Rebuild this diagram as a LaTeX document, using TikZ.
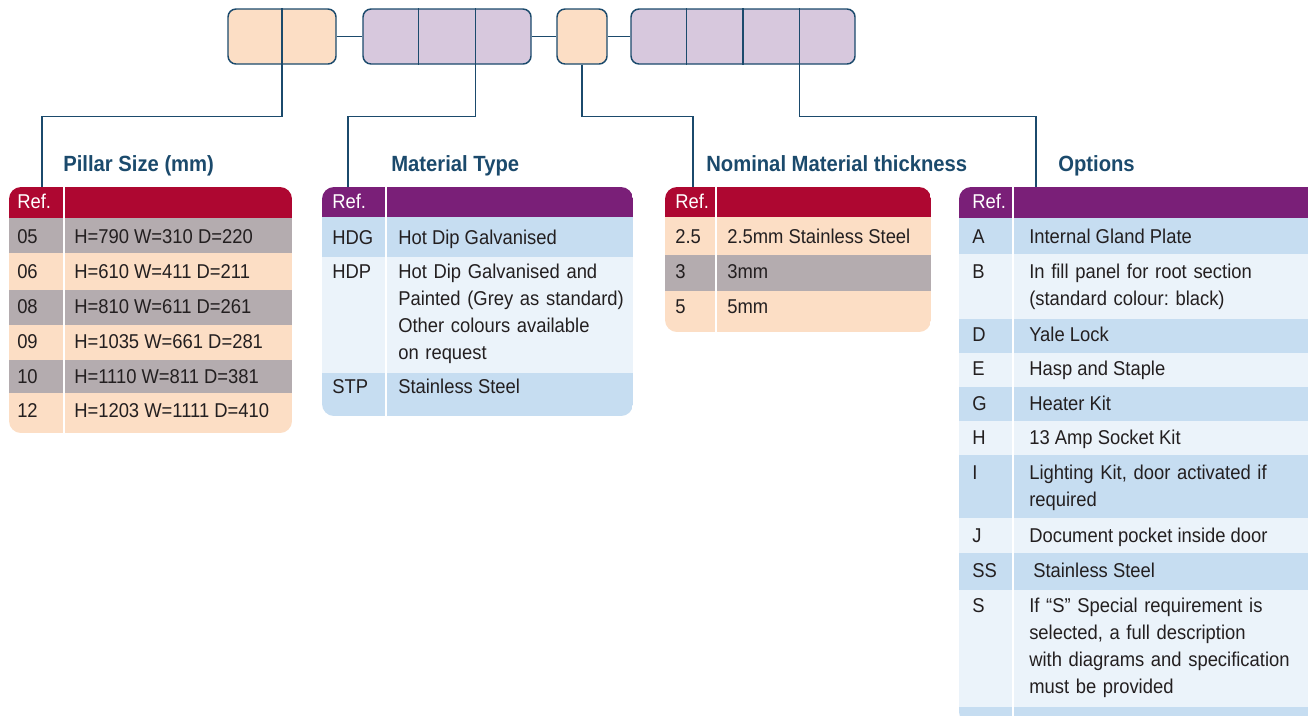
\documentclass[tikz,border=0pt]{standalone}
\usepackage{fontspec}
\setmainfont{Liberation Sans}[FakeStretch=0.92]
\usepackage{tikz}
\usetikzlibrary{calc}
\frenchspacing
\definecolor{navy}{HTML}{1B4A6C}
\definecolor{ink}{HTML}{231F20}
\definecolor{crimson}{HTML}{AE0731}
\definecolor{plum}{HTML}{7A1F78}
\definecolor{peach}{HTML}{FCDEC5}
\definecolor{lilac}{HTML}{D7C8DD}
\definecolor{greyrow}{HTML}{B4ACAF}
\definecolor{bluerow}{HTML}{C6DDF1}
\definecolor{paleblue}{HTML}{EBF3FA}
\tikzset{% styles of the code chart
    >=latex,
    edge/.style={draw=navy, line width=1pt},
    codebox/.style={draw=navy, line width=1.1pt, rounded corners=6pt,
        minimum height=41.25pt, inner sep=0pt},
    heading/.style={anchor=base west, inner sep=0pt, text=navy,
        font=\bfseries\fontsize{16.5}{19}\selectfont},
    cell/.style={anchor=base west, inner sep=0pt, text=ink,
        font=\fontsize{15}{20.25}\selectfont},
    multicell/.style={cell, text width=7cm, align=left},
    refhead/.style={cell, text=white},
    split/.style={white, line width=1.3pt}
}

\begin{document}
\begin{tikzpicture}[x=0.75pt, y=-0.75pt]
    \clip (0,0) rectangle (1308,715);
    \newcommand{\legdrop}{52}

    % code boxes
    \node[codebox, fill=peach, minimum width=81pt] (size) at (282,36.5) {};
    \node[codebox, fill=lilac, minimum width=126pt] (material) at (447,36.5) {};
    \node[codebox, fill=peach, minimum width=37.5pt] (thick) at (582,36.5) {};
    \node[codebox, fill=lilac, minimum width=168pt] (extras) at (743,36.5) {};

    % dividers
    \draw[edge] (size.north) -- (size.south);
    \draw[edge] ($(material.north west)!1/3!(material.north east)$) -- ($(material.south west)!1/3!(material.south east)$);
    \draw[edge] ($(material.north west)!2/3!(material.north east)$) -- ($(material.south west)!2/3!(material.south east)$);
    \draw[edge] ($(extras.north west)!1/4!(extras.north east)$) -- ($(extras.south west)!1/4!(extras.south east)$);
    \draw[edge] ($(extras.north west)!2/4!(extras.north east)$) -- ($(extras.south west)!2/4!(extras.south east)$);
    \draw[edge] ($(extras.north west)!3/4!(extras.north east)$) -- ($(extras.south west)!3/4!(extras.south east)$);

    % links between boxes
    \draw[edge] (size) -- (material);
    \draw[edge] (material) -- (thick);
    \draw[edge] (thick) -- (extras);

    % leaders down to the tables
    \coordinate (sizetop) at (42,187);
    \coordinate (mattop) at (348,187);
    \coordinate (thicktop) at (693,187);
    \coordinate (extratop) at (1036,187);
    \coordinate (matsplit) at ($(material.south west)!2/3!(material.south east)$);
    \coordinate (extrasplit) at ($(extras.south west)!3/4!(extras.south east)$);
    \draw[edge] (size.south) -- ++(0,\legdrop) -| (sizetop);
    \draw[edge] (matsplit) -- ++(0,\legdrop) -| (mattop);
    \draw[edge] (thick.south) -- ++(0,\legdrop) -| (thicktop);
    \draw[edge] (extrasplit) -- ++(0,\legdrop) -| (extratop);

    % pillar size table
    \node[heading] (sizehead) at (63,171) {Pillar Size (mm)};
    \begin{scope}
        \clip[rounded corners=9pt] (9,187) rectangle (292,433);
        \fill[crimson] (9,187) rectangle (292,218);
        \fill[greyrow] (9,218) rectangle (292,253);
        \fill[peach] (9,253) rectangle (292,290);
        \fill[greyrow] (9,290) rectangle (292,325);
        \fill[peach] (9,325) rectangle (292,360);
        \fill[greyrow] (9,360) rectangle (292,393);
        \fill[peach] (9,393) rectangle (292,433);
    \end{scope}
    \draw[split] (64,187) -- (64,433);
    \node[refhead] (sizeref) at (17,208) {Ref.};
    \node[cell] (s05) at (17,243) {05};
    \node[cell] (s05d) at (74,243) {H=790 W=310 D=220};
    \node[cell] (s06) at (17,278) {06};
    \node[cell] (s06d) at (74,278) {H=610 W=411 D=211};
    \node[cell] (s08) at (17,313) {08};
    \node[cell] (s08d) at (74,313) {H=810 W=611 D=261};
    \node[cell] (s09) at (17,348) {09};
    \node[cell] (s09d) at (74,348) {H=1035 W=661 D=281};
    \node[cell] (s10) at (17,383) {10};
    \node[cell] (s10d) at (74,383) {H=1110 W=811 D=381};
    \node[cell] (s12) at (17,417) {12};
    \node[cell] (s12d) at (74,417) {H=1203 W=1111 D=410};

    % material type table
    \node[heading] (mathead) at (391,171) {Material Type};
    \begin{scope}
        \clip[rounded corners=9pt] (322,187) rectangle (633,416);
        \fill[plum] (322,187) rectangle (633,217);
        \fill[bluerow] (322,217) rectangle (633,257);
        \fill[paleblue] (322,257) rectangle (633,373);
        \fill[bluerow] (322,373) rectangle (633,416);
    \end{scope}
    \draw[split] (386,187) -- (386,416);
    \node[refhead] (matref) at (332,208) {Ref.};
    \node[cell] (hdg) at (332,244) {HDG};
    \node[cell] (hdgd) at (398,244) {Hot Dip Galvanised};
    \node[cell] (hdp) at (332,278) {HDP};
    \node[multicell] (hdpd) at (398,278) {Hot Dip Galvanised and\\Painted (Grey as standard)\\Other colours available\\on request};
    \node[cell] (stp) at (332,393) {STP};
    \node[cell] (stpd) at (398,393) {Stainless Steel};

    % thickness table
    \node[heading] (thickhead) at (706,171) {Nominal Material thickness};
    \begin{scope}
        \clip[rounded corners=9pt] (665,187) rectangle (931,332);
        \fill[crimson] (665,187) rectangle (931,217);
        \fill[peach] (665,217) rectangle (931,255);
        \fill[greyrow] (665,255) rectangle (931,291);
        \fill[peach] (665,291) rectangle (931,332);
    \end{scope}
    \draw[split] (716,187) -- (716,332);
    \node[refhead] (thickref) at (675,208) {Ref.};
    \node[cell] (t25) at (675,243) {2.5};
    \node[cell] (t25d) at (727,243) {2.5mm Stainless Steel};
    \node[cell] (t3) at (675,278) {3};
    \node[cell] (t3d) at (727,278) {3mm};
    \node[cell] (t5) at (675,313) {5};
    \node[cell] (t5d) at (727,313) {5mm};

    % options table
    \node[heading] (extrahead) at (1058,171) {Options};
    \begin{scope}
        \clip[rounded corners=9pt] (959,187) rectangle (1340,724);
        \fill[plum] (959,187) rectangle (1340,218);
        \fill[bluerow] (959,218) rectangle (1340,254);
        \fill[paleblue] (959,254) rectangle (1340,319);
        \fill[bluerow] (959,319) rectangle (1340,353);
        \fill[paleblue] (959,353) rectangle (1340,387);
        \fill[bluerow] (959,387) rectangle (1340,421);
        \fill[paleblue] (959,421) rectangle (1340,455);
        \fill[bluerow] (959,455) rectangle (1340,518);
        \fill[paleblue] (959,518) rectangle (1340,553);
        \fill[bluerow] (959,553) rectangle (1340,590);
        \fill[paleblue] (959,590) rectangle (1340,707);
        \fill[bluerow] (959,707) rectangle (1340,724);
    \end{scope}
    \draw[split] (1013,187) -- (1013,724);
    \node[refhead] (extraref) at (972,208) {Ref.};
    \node[cell] (oa) at (972,243) {A};
    \node[cell] (oad) at (1029,243) {Internal Gland Plate};
    \node[cell] (ob) at (972,278) {B};
    \node[multicell] (obd) at (1029,278) {In fill panel for root section\\(standard colour: black)};
    \node[cell] (od) at (972,341) {D};
    \node[cell] (odd) at (1029,341) {Yale Lock};
    \node[cell] (oe) at (972,375) {E};
    \node[cell] (oed) at (1029,375) {Hasp and Staple};
    \node[cell] (og) at (972,410) {G};
    \node[cell] (ogd) at (1029,410) {Heater Kit};
    \node[cell] (oh) at (972,444) {H};
    \node[cell] (ohd) at (1029,444) {13 Amp Socket Kit};
    \node[cell] (oi) at (972,479) {I};
    \node[multicell] (oid) at (1029,479) {Lighting Kit, door activated if\\required};
    \node[cell] (oj) at (972,542) {J};
    \node[cell] (ojd) at (1029,542) {Document pocket inside door};
    \node[cell] (oss) at (972,577) {SS};
    \node[cell] (ossd) at (1033,577) {Stainless Steel};
    \node[cell] (os) at (972,612) {S};
    \node[multicell] (osd) at (1029,612) {If “S” Special requirement is\\selected, a full description\\with diagrams and specification\\must be provided};
\end{tikzpicture}
\end{document}
